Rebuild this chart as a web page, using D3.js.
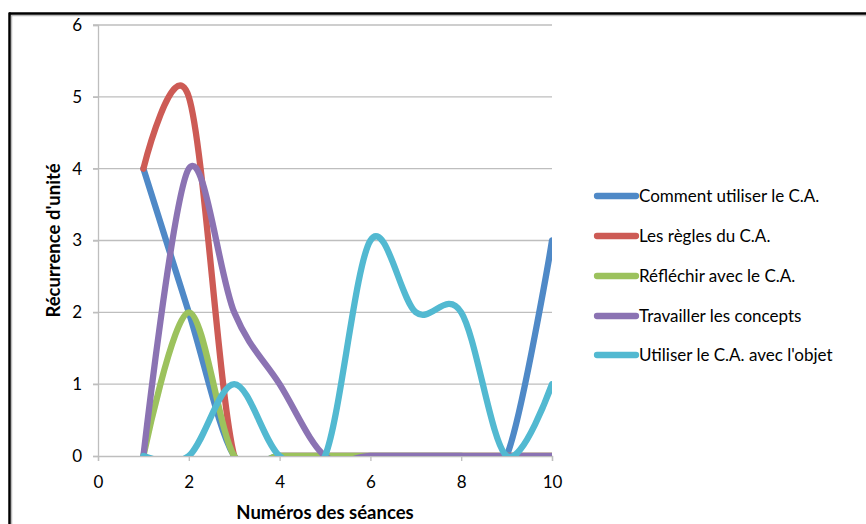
<!DOCTYPE html>
<html>
<head>
<meta charset="utf-8">
<script src="https://cdn.jsdelivr.net/npm/d3@7"></script>
<style>
html,body{margin:0;padding:0;background:#fff;}
svg{display:block;}
text{font-family:Lato,"Open Sans",sans-serif;fill:#000;}
</style>
</head>
<body>
<svg id="chart" width="866" height="524"></svg>
<script>
const sessions = [1, 2, 3, 4, 5, 6, 7, 8, 9, 10];
const seriesNames = ["Comment utiliser le C.A.", "Les règles du C.A.", "Réfléchir avec le C.A.", "Travailler les concepts", "Utiliser le C.A. avec l'objet"];
const commentUtiliser = [4, 2, 0, 0, 0, 0, 0, 0, 0, 3];
const reglesCA = [4, 5, 0, 0, 0, 0, 0, 0, 0, 0];
const reflechir = [0, 2, 0, 0, 0, 0, 0, 0, 0, 0];
const travailler = [0, 4, 2, 1, 0, 0, 0, 0, 0, 0];
const utiliserObjet = [0, 0, 1, 0, 0, 3, 2, 2, 0, 1];
const xTicks = [0, 2, 4, 6, 8, 10];
const yTicks = [0, 1, 2, 3, 4, 5, 6];
const colors = ["#4F89C7", "#CD5B55", "#9CC25D", "#8B73B3", "#52B9D1"];

const allSeries = [commentUtiliser, reglesCA, reflechir, travailler, utiliserObjet];

const svg = d3.select("#chart");
const pLeft = 98, pRight = 552, pTop = 25, pBottom = 456;

const x = d3.scaleLinear().domain([0, 10]).range([pLeft, pRight]);
const y = d3.scaleLinear().domain([0, 6]).range([pBottom, pTop]);

// outer border (top & left) with light shadow
svg.append("line").attr("x1", 9).attr("x2", 866).attr("y1", 15.5).attr("y2", 15.5).attr("stroke", "#bbb").attr("stroke-width", 1.5);
svg.append("line").attr("x1", 11.5).attr("x2", 11.5).attr("y1", 13).attr("y2", 524).attr("stroke", "#bbb").attr("stroke-width", 1.5);
svg.append("line").attr("x1", 9).attr("x2", 866).attr("y1", 13.5).attr("y2", 13.5).attr("stroke", "#000").attr("stroke-width", 2.5);
svg.append("line").attr("x1", 9.5).attr("x2", 9.5).attr("y1", 12.5).attr("y2", 524).attr("stroke", "#000").attr("stroke-width", 2.5);

// gridlines
svg.append("g").selectAll("line").data(yTicks.filter(d => d > 0)).join("line")
  .attr("x1", pLeft - 5).attr("x2", pRight)
  .attr("y1", d => y(d)).attr("y2", d => y(d))
  .attr("stroke", "#BEBEBE").attr("stroke-width", 1.3);

// y axis
const yAxis = svg.append("g").attr("transform", `translate(${pLeft},0)`)
  .call(d3.axisLeft(y).tickValues(yTicks).tickSize(5).tickPadding(11).tickFormat(d3.format("d")));
yAxis.select(".domain").attr("stroke", "#BEBEBE").attr("stroke-width", 1.3);
yAxis.selectAll(".tick line").attr("stroke", "#BEBEBE").attr("stroke-width", 1.3);
yAxis.selectAll(".tick text").style("font-size", "17px").style("font-family", "Lato,'Open Sans',sans-serif").attr("fill", "#000");

// x axis
const xAxis = svg.append("g").attr("transform", `translate(0,${pBottom})`)
  .call(d3.axisBottom(x).tickValues(xTicks).tickSize(5).tickPadding(15).tickFormat(d3.format("d")));
xAxis.select(".domain").attr("stroke", "#BEBEBE").attr("stroke-width", 1.3);
xAxis.selectAll(".tick line").attr("stroke", "#BEBEBE").attr("stroke-width", 1.3);
xAxis.selectAll(".tick text").style("font-size", "17px").style("font-family", "Lato,'Open Sans',sans-serif").attr("fill", "#000");

// clip
svg.append("clipPath").attr("id", "plotclip").append("rect")
  .attr("x", pLeft).attr("y", pTop - 4).attr("width", pRight - pLeft).attr("height", pBottom - pTop + 4);

const line = d3.line()
  .x((d, i) => x(sessions[i]))
  .y(d => y(d))
  .curve(d3.curveCatmullRom.alpha(0));

const g = svg.append("g").attr("clip-path", "url(#plotclip)");
allSeries.forEach((s, i) => {
  g.append("path").datum(s).attr("d", line)
    .attr("fill", "none").attr("stroke", colors[i]).attr("stroke-width", 6.3)
    .attr("stroke-linecap", "round").attr("stroke-linejoin", "round");
});

// legend
const legendY = [196, 236, 276, 316, 355];
const lg = svg.append("g");
seriesNames.forEach((name, i) => {
  lg.append("line").attr("x1", 597).attr("x2", 636).attr("y1", legendY[i]).attr("y2", legendY[i])
    .attr("stroke", colors[i]).attr("stroke-width", 6.3).attr("stroke-linecap", "round");
  lg.append("text").attr("x", 639).attr("y", legendY[i] + 6)
    .style("font-size", "17px").text(name);
});

// axis titles
svg.append("text").attr("x", (pLeft + pRight) / 2).attr("y", 519)
  .attr("text-anchor", "middle").style("font-size", "18.5px").style("font-weight", "bold")
  .text("Numéros des séances");
svg.append("text").attr("transform", `translate(60,${(pTop + pBottom) / 2}) rotate(-90)`)
  .attr("text-anchor", "middle").style("font-size", "18.5px").style("font-weight", "bold")
  .text("Récurrence d'unité");
</script>
</body>
</html>
